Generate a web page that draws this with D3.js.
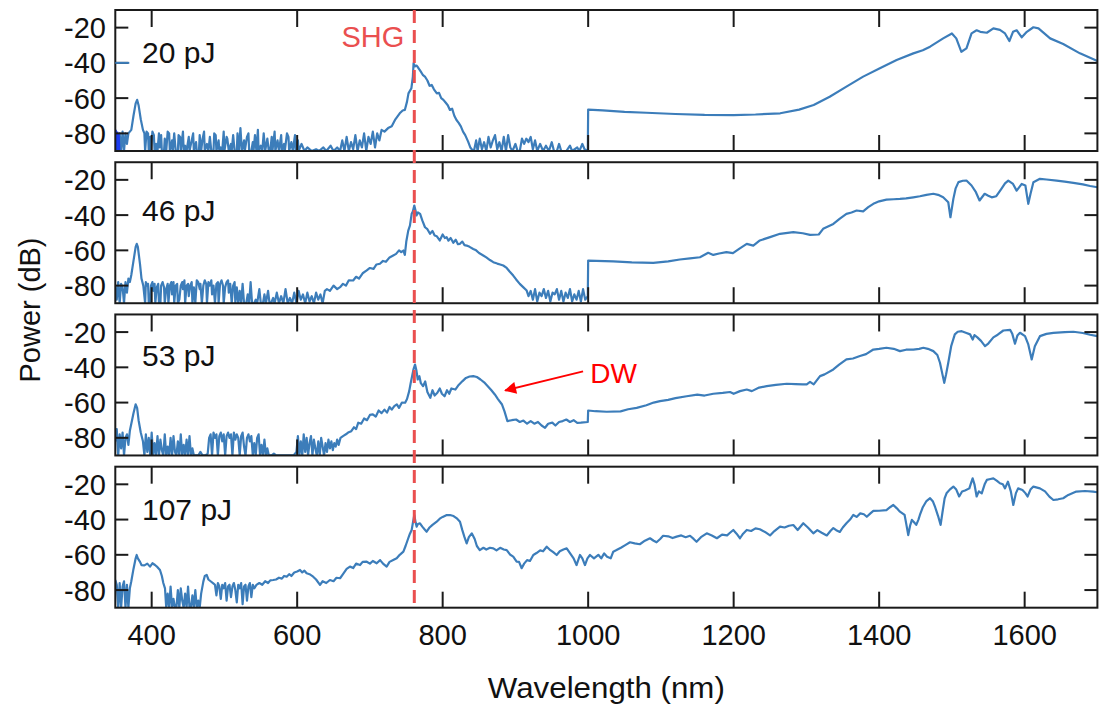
<!DOCTYPE html>
<html>
<head>
<meta charset="utf-8">
<script src="https://cdn.jsdelivr.net/npm/d3@7"></script>
<style>
  body { margin: 0; background: #fff; }
  text { font-family: "Liberation Sans", Arial, Helvetica, sans-serif; }
</style>
</head>
<body>
<svg id="chart" width="1099" height="704"></svg>
<script>
// Axis ticks and panel labels
const wavelengthTicks = [400, 600, 800, 1000, 1200, 1400, 1600];
const powerTicks = [-20, -40, -60, -80];
const pulseLabels = ["20 pJ", "46 pJ", "53 pJ", "107 pJ"];
const labelLevels = [-40, -43.5, -39.5, -40];
const shgWavelength = 761;

// Spectra: [wavelength (nm), power (dB)]
const spec20Edge = [[350,-78],[351,-90],[352,-79],[353,-90],[354,-80],[355,-90]];
const spec20 = [
  [355,-90],[356,-80],[358,-90],[360,-79],[362,-90],[364,-80],[366,-86],[368,-80],[370,-79],
  [372,-78],[375,-70],[378,-63],[380,-61],[382,-64],[385,-72],[388,-78],
  [390,-80],[391,-90],[393,-79],[395,-80],[396,-90],[398,-82],[399,-90],[401,-79],[403,-81],[404,-90],
  [406,-86],[408,-90],[410,-80],[411,-88],[413,-81],[414,-90],[417,-90],[418,-83],[420,-90],[422,-79],
  [424,-80],[425,-90],[428,-84],[429,-90],[431,-80],[433,-90],[436,-90],[437,-81],[439,-82],[440,-90],
  [443,-79],[444,-90],[446,-87],[448,-90],[451,-82],[452,-90],[455,-84],[457,-80],[458,-90],[461,-85],
  [462,-90],[465,-90],[466,-81],[468,-90],[470,-83],[472,-79],[473,-90],[476,-86],[478,-90],[480,-82],
  [482,-90],[485,-90],[486,-80],[488,-81],[489,-90],[492,-84],[493,-90],[495,-88],[497,-90],[499,-79],
  [500,-90],[503,-82],[504,-83],[506,-90],[509,-86],[510,-90],[512,-81],[514,-90],[517,-90],[518,-80],
  [520,-90],[522,-77],[524,-90],[527,-84],[528,-90],[531,-82],[533,-80],[534,-90],[537,-90],[539,-85],
  [540,-90],[542,-81],[544,-90],[546,-78],[547,-90],[550,-87],[552,-90],[554,-80],[556,-90],[559,-83],
  [561,-90],[563,-90],[565,-82],[566,-90],[569,-79],[570,-90],[573,-84],[575,-90],[578,-81],[579,-90],
  [582,-86],[583,-90],[586,-80],[588,-82],[589,-90],[592,-85],[594,-90],[597,-81],[598,-90],[601,-84],
  [602,-90],
  [606,-86],[610,-90],[614,-88],[620,-90],[626,-89],[630,-90],[636,-88],[640,-90],[646,-87],[650,-90],
  [655,-88],[659,-90],
  [662,-84],[665,-90],[668,-82],[671,-90],[674,-85],[677,-89],[680,-81],[683,-90],[686,-84],[689,-88],
  [692,-80],[695,-90],[698,-82],[701,-86],[704,-79],[707,-88],[710,-80],[713,-84],[716,-78],[720,-79],
  [725,-77],[730,-76],[735,-72],[741,-68.6],[745,-67],[748,-66.7],[751,-62],[753,-57.3],[757,-54.4],
  [759,-48],[760,-40.3],[762,-42],[764,-41.5],[766,-42.5],[770,-45],[773,-47],[776,-48],[779,-50],
  [782,-53],[785,-52.5],[788,-55],[792,-57.3],[795,-57],[798,-60],[801,-61],[804,-62.5],[807,-64],
  [810,-66.7],[813,-66],[816,-70],[819,-72.4],[822,-74],[825,-76],[828,-79],[831,-81],[835,-84.7],
  [838,-88],[840,-89],
  [843,-90],[846,-84],[848,-90],[851,-83],[854,-89],[857,-85],[860,-90],[863,-82],[866,-88],[869,-84],
  [872,-81],[875,-89],[878,-85],[881,-90],[884,-82],[887,-90],[890,-81],[893,-88],[896,-90],[900,-86],
  [903,-90],[906,-90],[909,-83],[912,-86],[915,-83],[918,-85],[921,-82],[924,-89],[927,-84],[930,-90],
  [934,-86],[938,-90],[942,-87],[946,-90],[950,-85],[953,-90],[957,-90],[960,-86],[963,-90],[970,-90],
  [975,-87],[978,-90],[985,-88],[988,-90],[992,-86],[995,-89],[999.5,-90],
  [1000,-66.5],[1020,-67],[1050,-67.8],[1080,-68.3],[1120,-69],[1160,-69.5],[1200,-69.6],[1230,-69.3],
  [1264,-68.6],[1290,-66.5],[1310,-63.9],[1332,-59.2],[1355,-53.5],[1378,-47.8],[1401,-43.1],
  [1424,-38.4],[1447,-34.6],[1460,-32.8],[1470,-30.8],[1488,-26.1],[1500,-23.3],[1506,-26.1],
  [1513,-33.7],[1520,-31.8],[1527,-23.3],[1534,-21.5],[1539,-22.4],[1548,-22.9],[1557,-20.4],
  [1566,-21.3],[1573,-23.3],[1579,-27.6],[1584,-22.4],[1589,-21.5],[1596,-25.5],[1603,-22.4],
  [1612,-19.8],[1619,-20.4],[1635,-26.1],[1653,-29.3],[1676,-34.6],[1700,-39]
];
const spec46 = [
  [350,-80],[352,-88],[354,-78],[356,-90],[358,-79],[360,-81],[362,-90],[364,-78],[366,-84],[368,-76],
  [370,-78],[372,-74],[375,-66],[378,-58],[379.5,-56.3],[381,-58],[384,-68],[386,-76],[388.5,-80],
  [391,-90],[392,-78],[394,-80],[395,-79],[396,-90],[398,-90],[399,-80],[401,-78],[402,-83],[404,-79],
  [405,-90],[407,-81],[409,-79],[410,-90],[412,-90],[413,-80],[415,-78],[417,-81],[418,-90],[420,-82],
  [422,-79],[423,-90],[425,-80],[427,-78],[428,-85],[430,-78],[431,-90],[433,-80],[435,-79],[436,-90],
  [438,-88],[440,-80],[442,-78],[443,-82],[445,-77],[446,-90],[448,-80],[450,-79],[451,-86],[453,-80],
  [455,-78],[456,-90],[458,-81],[460,-90],[462,-77],[464,-78],[466,-82],[467,-79],[469,-90],[471,-80],
  [473,-77],[475,-79],[476,-90],[478,-78],[480,-80],[482,-77],[483,-85],[485,-80],[487,-90],[489,-79],
  [491,-78],[492,-90],[494,-79],[496,-77],[498,-80],[499,-90],[501,-81],[503,-78],[505,-77],[506,-84],
  [508,-79],[510,-90],[512,-80],[514,-78],[515,-90],[517,-81],[519,-90],[521,-83],[523,-90],[525,-79],
  [527,-90],[530,-90],[532,-85],[534,-90],[536,-78],[538,-90],[541,-90],[543,-88],[545,-90],
  [548,-82],[550,-90],[553,-90],[555,-85],[557,-90],[560,-83],[562,-90],[564,-90],[567,-87],[569,-90],
  [572,-84],[575,-90],
  [578,-86],[581,-90],[584,-82],[587,-90],[590,-87],[593,-90],[596,-84],[599,-90],[602,-83],[605,-88],
  [608,-85],[611,-90],[614,-84],[617,-89],[620,-86],[623,-90],[626,-84],[629,-88],[632,-85],[635,-90],
  [638,-83],[641,-82],
  [645,-83],[650,-80],[655,-82],[659,-80.9],[663,-79],[667,-80],[671,-77],[677,-77.1],[681,-75],
  [685,-76],[690,-73],[695.6,-71.4],[700,-70],[705,-70.5],[709,-68],[713.8,-67.6],[718,-66],[722,-66.5],
  [727,-64],[732,-62.9],[736,-62],[740,-60],[743,-61],[746,-60.1],[748,-62.6],[750,-55],[752.7,-48.8],
  [755,-46],[757.4,-39.3],[759,-38],[761,-34.6],[763,-38],[764,-40.2],[766,-38.5],[769,-39.3],[772,-43],
  [775.7,-46.9],[779,-48],[782.6,-50.6],[786,-49],[789,-51.6],[792,-52],[796,-54.4],[800,-51],[803,-53],
  [805.5,-52.5],[808,-54.5],[811,-53],[814.6,-55.7],[818,-54],[821,-56.5],[823.8,-56.3],[827,-55],
  [830,-57],[833,-57.3],[837,-58],[842,-59.2],[846,-60],[850,-61.5],[855.8,-62.9],[860,-64],[865,-65.5],
  [869.6,-66.7],[875,-67.5],[879,-68],[883.3,-68.6],[888,-70],[892,-72],[897,-74.3],[901,-76.5],
  [906,-79],[911,-81],[915.5,-82.8],
  [918,-86],[921,-83],[924,-88],[927,-82],[930,-89],[933,-84],[936,-86],[939,-82],[942,-87],[945,-83],
  [948,-89],[951,-84],[954,-85],[957,-82],[960,-88],[963,-83],[966,-89],[969,-84],[972,-87],[975,-82],
  [978,-89],[981,-85],[984,-88],[987,-83],[990,-89],[993,-82],[996,-88],[999.5,-86],
  [1000,-65.8],[1034.5,-66.3],[1060,-66.8],[1089.5,-67.1],[1110,-66.3],[1126,-65.2],[1140,-64.6],
  [1153.7,-63.9],[1160,-62.5],[1165,-61.4],[1172,-62.6],[1180,-61.8],[1190,-61],[1199,-61.6],
  [1208,-59],[1218,-56.3],[1227,-57.3],[1236,-54.4],[1250,-52.5],[1263.7,-50.6],[1282,-49.7],
  [1295,-50.3],[1305,-51.2],[1317,-51],[1323,-47.8],[1337,-45],[1346,-42],[1355,-39.3],[1362,-38.5],
  [1369,-37.4],[1378,-37.9],[1385,-35.5],[1392,-33.6],[1400,-32.2],[1410,-31.2],[1420,-31],
  [1428.6,-30.8],[1437,-30.5],[1447,-29.9],[1456,-29.3],[1465,-28.5],[1474.5,-27.9],[1481,-28.5],
  [1488,-29.9],[1495,-32.7],[1498,-41.2],[1502,-30.8],[1505,-25],[1509,-21.3],[1515,-20.5],[1520,-20.4],
  [1527,-23.2],[1533,-27],[1538,-31.7],[1545,-27.9],[1550,-29],[1554.7,-29.9],[1561,-29.3],[1568,-25.1],
  [1573,-22],[1577.5,-20.4],[1584,-22.3],[1589,-26.1],[1596,-22.3],[1601,-23.2],[1605,-33.6],[1608,-28],
  [1612,-21.3],[1621,-19.4],[1630,-19.8],[1644,-20.4],[1655,-21],[1667,-21.7],[1680,-22.6],[1690,-23.5],
  [1700,-24.2]
];
const spec53 = [
  [350,-82],[352,-75],[354,-90],[356,-78],[358,-86],[360,-77],[362,-90],[364,-80],[366,-78],[368,-84],
  [370,-76],[372,-72],[375,-66],[378,-61],[380,-63],[382,-70],[385,-77],[388,-82],
  [390,-90],[392,-78],[394,-88],[396,-80],[398,-90],[400,-77],[402,-90],[404,-83],[406,-90],[408,-79],
  [410,-90],[412,-81],[414,-87],[416,-90],[418,-78],[420,-90],[422,-85],[424,-90],[426,-80],[428,-90],
  [430,-79],[432,-88],[434,-90],[436,-82],[438,-90],[440,-78],[442,-90],[444,-84],[446,-90],[448,-81],
  [450,-90],[452,-79],[454,-90],[456,-86],[458,-90],[461,-90],[464,-90],[467,-88],[470,-90],[474,-90],
  [477,-89],[479,-80],[481,-78],[483,-90],[485,-77],[487,-80],[489,-78],[491,-90],[493,-79],[495,-77],
  [497,-82],[499,-78],[501,-90],[503,-79],[505,-77],[507,-80],[509,-78],[511,-90],[513,-77],[515,-81],
  [517,-78],[519,-80],[521,-90],[523,-79],[525,-77],[527,-85],[529,-90],[531,-80],[533,-78],[535,-82],
  [537,-79],[539,-90],[541,-83],[543,-90],[545,-80],[547,-78],[549,-90],[551,-84],[553,-90],[555,-81],
  [557,-90],[559,-86],[561,-90],[563,-90],[565,-90],[568,-89],[571,-90],[576,-90],[580,-90],[585,-90],
  [590,-90],[595,-90],[599,-88],
  [601,-79],[603,-90],[605,-82],[607,-90],[609,-78],[611,-88],[613,-80],[615,-90],[617,-83],[619,-79],
  [621,-90],[623,-81],[625,-86],[627,-90],[629,-82],[631,-90],[633,-80],[635,-85],[637,-90],[639,-83],
  [641,-88],[643,-81],[645,-86],[647,-82],[649,-87],[651,-83],[653,-85],[655,-81],[657,-84],[659.6,-80],
  [663,-79],[667,-78],[670,-77],[674.4,-76.2],[678,-74],[681,-75],[684,-71.4],[688,-72],[692,-69],
  [696,-70],[700,-67],[704,-66.7],[708,-68],[712,-64.5],[716,-66],[720,-64],[723.5,-65.7],[727,-62.5],
  [730,-64],[733.5,-62],[737,-61],[740,-63],[744,-60],[748.4,-60.1],[751,-58],[754,-53.5],[756,-49],
  [758,-45],[760,-41],[762,-38.4],[764,-42],[765.7,-46.9],[768,-45],[770,-49],[773,-50.7],[776,-48],
  [779,-54],[783,-57.3],[786,-53],[789,-56],[792.7,-54.4],[796,-52],[799,-55],[802.6,-56.4],[806,-53],
  [809,-55],[812,-52],[817.4,-52.6],[822,-50],[827.3,-47.8],[832,-46],[837,-45.2],[842,-45],
  [847,-45.5],[852,-46.9],[857,-48.5],[862,-50.7],[867,-53],[871.7,-55.4],[876,-58],[881.6,-61.1],
  [885,-65],[889,-70.5],[895,-70],[901,-69.6],[906,-71],[911,-70.2],[916,-72],[921,-70.5],[926,-72],
  [931,-71],[936,-73],[940.7,-74.3],[945,-72],[950.7,-71.4],[955,-73],[960,-71],[965,-70.5],
  [970,-69.6],[975,-71],[980,-70],[985,-71.5],[990,-71.4],[999.5,-71],
  [1000,-64.5],[1010,-64.9],[1025.4,-65.2],[1044.5,-65],[1055,-63.8],[1066.7,-63],[1080,-61.5],
  [1090,-60],[1098.7,-59.2],[1110,-58.5],[1120,-57.5],[1135.4,-56.4],[1150,-55.5],[1160,-56],
  [1172,-55],[1185,-54.5],[1195,-54],[1200,-55],[1208.7,-53.5],[1218,-52.6],[1225,-53.5],[1235,-51.5],
  [1245.4,-50.7],[1258,-50],[1273,-49.3],[1285,-49.5],[1295,-49.7],[1300.4,-49.7],[1305,-48.3],
  [1310,-49.7],[1318.7,-45],[1325,-44],[1337,-41.2],[1345,-38.5],[1355,-35.5],[1364,-35],
  [1373.6,-33.6],[1382,-32.5],[1392,-29.9],[1400,-29.5],[1410,-28.9],[1420,-29.5],[1428.6,-30.8],
  [1437,-30],[1447,-29.9],[1455,-29.5],[1460.7,-28.9],[1467,-29.5],[1474.5,-30.8],[1480,-33],
  [1483.6,-37.4],[1487,-44],[1489.5,-48.8],[1492,-44],[1495,-37.4],[1499,-28],[1504,-21.3],[1508,-19.8],
  [1513.5,-19.5],[1520,-20.5],[1525,-21.3],[1528.6,-24.2],[1531,-21.7],[1535,-23],[1540,-25],
  [1545.5,-28],[1550,-26.5],[1557,-23],[1563,-21.5],[1570.7,-19.1],[1580,-18.7],[1583,-21],
  [1586.7,-26.6],[1590,-22],[1593.6,-20.4],[1600.5,-22.3],[1605,-27],[1609.7,-35.5],[1614,-28],
  [1621,-22.3],[1630,-21],[1639.5,-20.4],[1655,-20],[1667,-19.8],[1680,-20.5],[1690,-21.5],[1700,-22.3]
];
const spec107 = [
  [350,-74.3],[352,-77],[354,-90],[356,-76],[358,-90],[360,-78],[362,-75],[364,-90],[366,-77],[368,-90],
  [370,-79],[372,-75],[375,-68],[378,-62],[379.4,-60.1],[381,-62],[384,-64],[386,-65.8],[390,-66],
  [394,-65],[397.7,-66.7],[401,-64.8],[404.6,-65.8],[408,-67],[411.4,-68.6],[414,-72],[416,-76],
  [418.3,-79],
  [420,-90],[422,-82],[424,-90],[426,-78],[428,-90],[430,-85],[432,-90],[434,-90],[436,-80],[438,-90],
  [440,-79],[442,-86],[444,-90],[446,-82],[448,-90],[450,-78],[452,-90],[454,-90],[456,-83],[458,-90],
  [460,-80],[462,-90],[464,-86],[466,-90],
  [468,-82],[471,-75.2],[473,-72],[475.6,-71.4],[478,-74],[481,-75],[484.7,-76.2],
  [487,-77],[489,-83],[491,-76],[493,-78],[495,-85],[497,-77],[499,-79],[501,-76],[503,-86],[505,-78],
  [507,-77],[509,-84],[511,-78],[513,-76],[515,-80],[517,-87],[519,-77],[521,-79],[523,-76],[525,-88],
  [527,-78],[529,-77],[531,-86],[533,-78],[535,-76],[537,-84],[539,-77],[541,-79],[544,-77.1],
  [548,-76],[552,-77],[556,-75],[560,-76],[563,-74.5],[567,-74.3],[571,-74],[575,-73],[579,-73.5],
  [582,-72],[585.6,-72.4],[589,-71],[592,-72],[596,-70],[600,-69.5],[603.9,-68.6],[607,-70],[610,-69],
  [613,-70.5],[617,-71],[622,-72.4],[626,-74],[631.4,-77.1],[635,-75],[640,-76],[645,-74.3],[650,-75],
  [654,-73],[659,-73.3],[663,-71],[668,-68],[672.6,-66.7],[677,-67.5],[681,-65],[686.4,-65.8],
  [690,-64],[695.6,-63.9],[700,-65],[704,-63.5],[709.3,-64.8],[714,-63],[718,-65],[723,-66.7],
  [727,-64],[732,-63],[736.8,-62],[741,-60],[746,-58.2],[749,-55],[752.7,-50.6],[755,-48],
  [757.4,-45.9],[759,-42],[761,-37.4],[763,-42],[764.3,-44],[766,-42.5],[768.8,-42.1],[772,-44],
  [775,-45.5],[778,-46.9],[782,-44.5],[786,-43],[791.8,-41.2],[796,-39.5],[800,-38.5],[805,-37.5],
  [810,-37.4],[815,-38],[820,-39.5],[823.8,-41.2],[827,-46],[830,-50],[833,-53.5],[836,-50],
  [840,-47.8],[844,-51],[847,-55],[851,-57.3],[856,-56],[860,-57],[865,-56],[869.6,-56.3],[874,-57.5],
  [879,-56],[884,-57],[888,-57.3],[893,-60],[897,-61],[901.7,-63.9],[905,-64],[908.6,-67.6],[912,-65],
  [916,-63],[920,-63.5],[924.6,-60.1],[929,-59],[934,-57.5],[938,-58],[943,-55.4],[947,-57],
  [952,-58.5],[956.7,-60.1],[961,-58],[966,-57],[970.5,-56.3],[975,-59],[980,-62],[984,-65.8],
  [988.7,-60.1],[992,-62],[995.6,-65.8],[999,-62],[1002.5,-60.1],[1008,-62],[1014,-60],[1018,-62],
  [1022,-59.2],[1026,-61.1],[1031,-62],[1034.5,-58.2],[1039,-57.3],[1045,-56],[1051,-54.5],
  [1057.5,-52.9],[1064,-53.5],[1071,-54],[1078,-52],[1085,-50.6],[1090,-52],[1094,-52.9],[1099,-51],
  [1103,-49.2],[1110,-49.5],[1116,-50.5],[1121.6,-49.7],[1128,-49],[1134,-50],[1140,-49.2],[1145,-51],
  [1149,-52.6],[1155,-50],[1163,-47.8],[1170,-49],[1177,-50.6],[1184,-48.5],[1191,-49],[1195,-47.5],
  [1199.5,-45.9],[1204,-48],[1208.7,-50.6],[1213,-48],[1218,-45.9],[1224,-46.5],[1230,-45],
  [1236,-45.5],[1243,-47],[1250,-49],[1256,-46.5],[1263.7,-44],[1270,-44.5],[1276,-43.5],[1282,-43.1],
  [1288,-45.9],[1295.7,-42.1],[1302,-44.5],[1309.5,-47.8],[1315,-46],[1321,-47.5],[1328,-49],
  [1333,-46.5],[1337,-44.8],[1341,-46],[1346,-47],[1350,-44.5],[1355,-42.1],[1360,-40],[1364.5,-37.4],
  [1369,-38.5],[1374,-36.5],[1379,-37],[1383,-38.4],[1388,-36.5],[1392,-35.1],[1400,-35],[1410,-34.6],
  [1415,-33],[1419.5,-31.7],[1424,-33.5],[1428.6,-35.5],[1432,-36.5],[1435,-37.4],[1437.5,-43],
  [1440,-48.8],[1442.5,-43.5],[1445,-40.2],[1448,-41.5],[1451,-43],[1454,-40],[1456,-37.4],[1460,-33],
  [1465,-29.5],[1470,-27.9],[1474,-29.8],[1477,-33],[1481,-38],[1484.5,-43],[1487,-36],[1490,-28],
  [1492.6,-25.1],[1497,-23],[1502,-21.3],[1506,-23],[1510,-26.9],[1514,-24.1],[1518,-23.5],
  [1524,-22.3],[1526.5,-19],[1528.5,-16.6],[1531,-20],[1534,-26.9],[1537,-24],[1541,-25.1],[1545,-20],
  [1548,-17.5],[1553,-17],[1557,-16.6],[1562,-18],[1566,-19.4],[1570,-20],[1573,-22.3],[1577,-18.5],
  [1581,-24],[1584.4,-31.7],[1588,-25],[1591,-22.3],[1597,-23.2],[1601,-25],[1604,-26.9],[1608,-23],
  [1612,-21.3],[1621,-22.3],[1628,-24],[1634,-27],[1639.5,-28.9],[1646,-28.5],[1653,-27.9],
  [1660,-26],[1671,-24.1],[1683,-23.8],[1694,-24.1],[1700,-24.5]
];
const spectra = [spec20, spec46, spec53, spec107];

// Dispersive-wave annotation: arrow tail, arrow tip, label position (nm, dB) in the 53 pJ panel
const dwTail = [993, -42.3];
const dwTip = [886, -53.1];
const dwLabelAt = [1003, -48.7];

// ---- layout ----
const lineColor = "#3c7dba";
const shgColor = "#ea4f4f";
const left = 115.3, right = 1097.4;
const panelTop0 = 10, panelStep = 152.23, panelH = 141;

const svg = d3.select("#chart");
const x = d3.scaleLinear().domain([350, 1700]).range([left, right]);

const panels = spectra.map((data, i) => {
  const top = panelTop0 + i * panelStep;
  const y = d3.scaleLinear().domain([-90, -10]).range([top + panelH, top]);
  return { data, top, bottom: top + panelH, y, i };
});

const defs = svg.append("defs");
panels.forEach(p => {
  defs.append("clipPath").attr("id", "clip" + p.i)
    .append("rect").attr("x", left).attr("y", p.top)
    .attr("width", right - left).attr("height", panelH);
});
defs.append("marker").attr("id", "arrowhead")
  .attr("viewBox", "0 0 10 10").attr("refX", 9).attr("refY", 5)
  .attr("markerWidth", 7).attr("markerHeight", 6).attr("markerUnits", "strokeWidth")
  .attr("orient", "auto")
  .append("path").attr("d", "M0,0 L10,5 L0,10 Z").attr("fill", "#ff0000");

// spectra
panels.forEach(p => {
  const line = d3.line().x(d => x(d[0])).y(d => p.y(d[1]));
  const g = svg.append("g").attr("clip-path", `url(#clip${p.i})`);
  g.append("path").datum(p.data)
    .attr("d", line).attr("fill", "none")
    .attr("stroke", lineColor).attr("stroke-width", 2.2).attr("stroke-linejoin", "round");
  if (p.i === 0) {
    g.append("path").datum(spec20Edge)
      .attr("d", line).attr("fill", "none")
      .attr("stroke", "#1c3cf0").attr("stroke-width", 3);
  }
});

// frames, ticks and tick labels
panels.forEach(p => {
  const g = svg.append("g").attr("stroke", "#1a1a1a").attr("stroke-width", 2);
  g.append("rect").attr("x", left).attr("y", p.top)
    .attr("width", right - left).attr("height", panelH).attr("fill", "none");
  wavelengthTicks.forEach(t => {
    g.append("line").attr("x1", x(t)).attr("x2", x(t)).attr("y1", p.top).attr("y2", p.top + 17);
    g.append("line").attr("x1", x(t)).attr("x2", x(t)).attr("y1", p.bottom - 16).attr("y2", p.bottom);
  });
  powerTicks.forEach(t => {
    g.append("line").attr("x1", left).attr("x2", left + 13).attr("y1", p.y(t)).attr("y2", p.y(t));
    g.append("line").attr("x1", right - 13).attr("x2", right).attr("y1", p.y(t)).attr("y2", p.y(t));
  });
  svg.append("g").selectAll("text").data(powerTicks).join("text")
    .attr("x", 106).attr("y", d => p.y(d)).attr("dy", "0.36em")
    .attr("text-anchor", "end").attr("font-size", 29).attr("fill", "#111")
    .text(d => d);
  svg.append("text").attr("x", 142).attr("y", p.y(labelLevels[p.i]))
    .attr("font-size", 30).attr("fill", "#111").text(pulseLabels[p.i]);
});

// legend swatch in the first panel
svg.append("line")
  .attr("x1", left).attr("x2", left + 14)
  .attr("y1", panels[0].y(-40)).attr("y2", panels[0].y(-40))
  .attr("stroke", lineColor).attr("stroke-width", 2);

// x tick labels under the last panel
const lastP = panels[panels.length - 1];
svg.append("g").selectAll("text").data(wavelengthTicks).join("text")
  .attr("x", d => x(d)).attr("y", lastP.bottom + 37)
  .attr("text-anchor", "middle").attr("font-size", 29).attr("fill", "#111")
  .text(d => d);

// axis titles
svg.append("text").attr("x", (left + right) / 2).attr("y", 698)
  .attr("text-anchor", "middle").attr("font-size", 29).attr("fill", "#111")
  .attr("textLength", 237).attr("lengthAdjust", "spacingAndGlyphs")
  .text("Wavelength (nm)");
svg.append("text").attr("transform", "translate(40,310) rotate(-90)")
  .attr("text-anchor", "middle").attr("font-size", 29).attr("fill", "#111")
  .text("Power (dB)");

// SHG marker
svg.append("line")
  .attr("x1", x(shgWavelength)).attr("x2", x(shgWavelength))
  .attr("y1", panels[0].top).attr("y2", lastP.bottom)
  .attr("stroke", shgColor).attr("stroke-width", 3).attr("stroke-dasharray", "13,7");
svg.append("text").attr("x", x(shgWavelength) - 10).attr("y", 46.5)
  .attr("text-anchor", "end").attr("font-size", 29).attr("fill", shgColor)
  .text("SHG");

// dispersive wave annotation
const p3 = panels[2];
svg.append("line")
  .attr("x1", x(dwTail[0])).attr("y1", p3.y(dwTail[1]))
  .attr("x2", x(dwTip[0])).attr("y2", p3.y(dwTip[1]))
  .attr("stroke", "#ff0000").attr("stroke-width", 2)
  .attr("marker-end", "url(#arrowhead)");
svg.append("text").attr("x", x(dwLabelAt[0])).attr("y", p3.y(dwLabelAt[1]))
  .attr("font-size", 28).attr("fill", "#ff0000").text("DW");
</script>
</body>
</html>
